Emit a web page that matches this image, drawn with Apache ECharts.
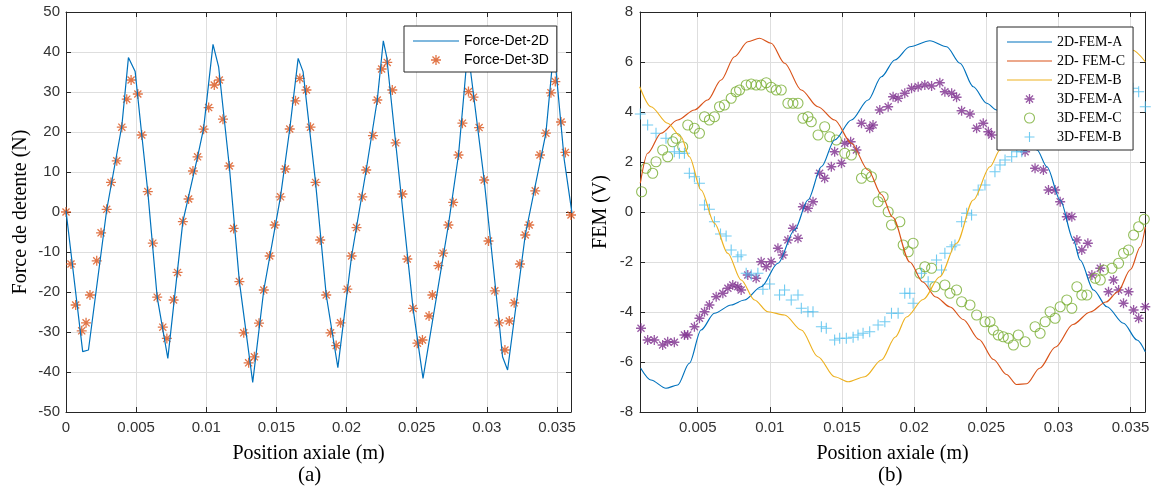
<!DOCTYPE html>
<html>
<head>
<meta charset="utf-8">
<script src="https://cdn.jsdelivr.net/npm/echarts@6/dist/echarts.min.js"></script>
<style>
html,body{margin:0;padding:0;background:#fff;}
#chart{width:1152px;height:495px;}
</style>
</head>
<body>
<div id="chart"></div>
<script>
// ---------- (a) detent force ----------
const xTicksA = [0, 0.005, 0.01, 0.015, 0.02, 0.025, 0.03, 0.035];
const yTicksNoteA = [-50, 50, 10]; // min, max, step
const force2DX = [0, 0.00119, 0.0016, 0.0029, 0.00398, 0.00445, 0.00493, 0.0054, 0.00583, 0.0065, 0.00726, 0.00833, 0.00938, 0.00981, 0.01048, 0.01088, 0.01164, 0.01236, 0.01331, 0.0141, 0.01529, 0.01595, 0.01655, 0.0169, 0.01779, 0.01855, 0.01938, 0.02036, 0.0214, 0.02219, 0.02262, 0.02286, 0.0235, 0.02474, 0.02545, 0.02726, 0.02798, 0.02838, 0.0286, 0.02885, 0.02981, 0.03088, 0.03112, 0.03148, 0.03274, 0.03421, 0.0347, 0.03493, 0.03552, 0.03607];
const force2DY = [0.3, -34.9, -34.5, 0.5, 21.5, 38.6, 35.1, 19.3, 5.1, -21.3, -36.6, -2.4, 13.8, 20.9, 41.9, 36.3, 11.5, -17.4, -42.6, -19.5, 3.8, 20.75, 38.4, 35.1, 7.4, -20.75, -38.9, -11, 10.5, 28, 42.8, 38.8, 17.3, -24.1, -41.6, -3.25, 14.25, 30, 39, 35, 8, -27.7, -36.2, -39.5, -5.75, 19.7, 38, 35.5, 13, -0.3];
const force3DX = [0, 0.000357, 0.00069, 0.00112, 0.00143, 0.00171, 0.00219, 0.0025, 0.0029, 0.00321, 0.00362, 0.00398, 0.00433, 0.00464, 0.00512, 0.0054, 0.00583, 0.00619, 0.0065, 0.0069, 0.00719, 0.00767, 0.00795, 0.00833, 0.00874, 0.00905, 0.00938, 0.00981, 0.01017, 0.01057, 0.01093, 0.01119, 0.01164, 0.01195, 0.01236, 0.01267, 0.01302, 0.01343, 0.01376, 0.0141, 0.01452, 0.01488, 0.01529, 0.01564, 0.01595, 0.01636, 0.01667, 0.01714, 0.01743, 0.01779, 0.01812, 0.01855, 0.01886, 0.01926, 0.01957, 0.02005, 0.02036, 0.02071, 0.02112, 0.0214, 0.02188, 0.02219, 0.0225, 0.0229, 0.02326, 0.0235, 0.02398, 0.02433, 0.02474, 0.02505, 0.02541, 0.02588, 0.02612, 0.02655, 0.02688, 0.02726, 0.0276, 0.02798, 0.02826, 0.02869, 0.02905, 0.02945, 0.02981, 0.03012, 0.03057, 0.03088, 0.03129, 0.0316, 0.03195, 0.03236, 0.03274, 0.03302, 0.03345, 0.03379, 0.03421, 0.03457, 0.03488, 0.03529, 0.0356, 0.036];
const force3DY = [0, -13, -23.25, -29.7, -27.7, -20.75, -12.2, -5.2, 0.67, 7.4, 12.8, 21.2, 28.2, 33, 29.5, 19.25, 5.1, -7.8, -21.3, -28.8, -31.6, -22, -15.1, -2.4, 3.25, 10.25, 13.8, 20.7, 26.1, 31.75, 33, 23.2, 11.5, -4.1, -17.4, -30.2, -37.7, -36.2, -27.8, -19.5, -11, -3.25, 3.8, 10.75, 20.75, 27.8, 33.4, 30.5, 21.2, 7.4, -7, -20.75, -30.2, -33.4, -27.7, -19.3, -11, -3.9, 3.8, 10.5, 19.1, 28, 35.75, 37.4, 30.5, 17.3, 4.5, -11.75, -24.1, -32.8, -32, -26, -20.75, -13.4, -10.3, -3.25, 2.4, 14.25, 22.2, 30.1, 28.7, 21.1, 8, -7.25, -19.7, -27.7, -34.5, -27.25, -22.7, -13, -5.75, -3.25, 5.3, 14.25, 19.7, 29.8, 32.6, 22.5, 14.9, -0.75];

// ---------- (b) EMF ----------
const xTicksB = [0.005, 0.01, 0.015, 0.02, 0.025, 0.03, 0.035];
const femA2DX = [0.00105, 0.00176, 0.0028, 0.00361, 0.00442, 0.00523, 0.00616, 0.00732, 0.00824, 0.0094, 0.01056, 0.01171, 0.01264, 0.01357, 0.01449, 0.01565, 0.01681, 0.01773, 0.01866, 0.0197, 0.02109, 0.02225, 0.02318, 0.0241, 0.02503, 0.02572, 0.0265, 0.0275, 0.02852, 0.0292, 0.03012, 0.03104, 0.0315, 0.03243, 0.03336, 0.03451, 0.03545, 0.03602];
const femA2DY = [-6.25, -6.72, -7.05, -6.92, -6.05, -4.72, -4.05, -3.72, -3.52, -2.99, -2.05, -0.72, 0.48, 1.81, 2.88, 3.68, 4.48, 5.41, 6.08, 6.61, 6.85, 6.61, 5.95, 5.01, 4.35, 4.08, 3.8, 3.2, 2.48, 1.81, 0.48, -1.12, -1.92, -3.12, -3.79, -4.45, -5.12, -5.59];
const femC2DX = [0.00102, 0.00153, 0.00246, 0.00361, 0.00477, 0.00569, 0.00662, 0.00755, 0.00847, 0.00928, 0.01009, 0.01102, 0.01218, 0.01333, 0.01449, 0.01565, 0.01681, 0.01773, 0.0185, 0.0197, 0.0206, 0.0215, 0.0225, 0.0234, 0.0245, 0.0255, 0.0264, 0.0271, 0.0278, 0.0287, 0.0298, 0.031, 0.0322, 0.0333, 0.0341, 0.035, 0.03567, 0.03602];
const femC2DY = [1.15, 2.35, 3.15, 3.68, 4.08, 4.48, 5.28, 6.21, 6.81, 6.95, 6.75, 5.95, 4.88, 4.21, 3.68, 2.75, 1.68, 0.7, -0.2, -2.0, -2.8, -3.4, -3.8, -4.3, -5.1, -5.9, -6.5, -6.9, -6.87, -6.25, -5.4, -4.5, -4.0, -3.6, -3.2, -2.3, -1.4, -0.6];
const femB2DX = [0.00098, 0.00176, 0.00292, 0.00384, 0.00442, 0.00523, 0.00616, 0.00708, 0.00801, 0.00894, 0.00986, 0.01102, 0.01218, 0.01333, 0.01449, 0.01542, 0.01658, 0.01773, 0.0187, 0.01947, 0.02063, 0.02178, 0.02294, 0.0241, 0.02526, 0.02595, 0.027, 0.0285, 0.03, 0.0315, 0.0333, 0.0345, 0.03512, 0.03602];
const femB2DY = [5.01, 4.21, 3.55, 3.01, 2.21, 0.88, -0.45, -1.65, -2.72, -3.52, -3.99, -4.12, -4.72, -5.79, -6.59, -6.79, -6.59, -5.92, -5.0, -4.2, -3.5, -2.59, -1.25, 0.48, 1.81, 2.48, 3.6, 4.8, 5.7, 6.3, 6.9, 6.75, 6.48, 6.01];
const femA3DX = [0.00107, 0.00153, 0.00199, 0.00257, 0.00292, 0.00338, 0.00408, 0.00431, 0.00477, 0.00512, 0.00547, 0.00581, 0.00628, 0.00674, 0.00709, 0.00743, 0.00778, 0.00801, 0.00847, 0.00905, 0.0094, 0.00975, 0.01009, 0.01056, 0.0109, 0.01125, 0.0116, 0.01195, 0.01229, 0.01264, 0.01299, 0.01345, 0.0138, 0.01426, 0.01449, 0.01496, 0.01519, 0.0156, 0.016, 0.01635, 0.01692, 0.01715, 0.01762, 0.0182, 0.01854, 0.01889, 0.01935, 0.01982, 0.02028, 0.02074, 0.02121, 0.02178, 0.02213, 0.0226, 0.02294, 0.02329, 0.02387, 0.02433, 0.02479, 0.02514, 0.02537, 0.02769, 0.02838, 0.02896, 0.02931, 0.02977, 0.03012, 0.03058, 0.03093, 0.03128, 0.03162, 0.03204, 0.03232, 0.0329, 0.03347, 0.03382, 0.03417, 0.03451, 0.03486, 0.03521, 0.03556, 0.03602];
const femA3DY = [-4.65, -5.12, -5.12, -5.32, -5.19, -5.21, -4.92, -4.92, -4.59, -4.25, -3.99, -3.72, -3.39, -3.25, -3.05, -2.92, -2.99, -3.12, -2.52, -2.65, -1.99, -2.19, -1.99, -1.45, -1.72, -1.12, -0.65, -1.05, 0.21, 0.15, 0.41, 1.55, 1.35, 1.81, 2.41, 1.95, 2.75, 2.81, 2.48, 3.55, 3.35, 3.48, 4.08, 4.21, 4.61, 4.55, 4.75, 4.95, 5.01, 5.08, 5.04, 5.17, 4.81, 4.75, 4.59, 4.05, 3.92, 3.35, 3.55, 3.21, 3.08, 2.41, 1.75, 1.68, 0.88, 0.88, 0.41, -0.19, -0.19, -1.12, -1.52, -1.25, -2.52, -2.25, -3.19, -2.72, -3.12, -3.65, -3.19, -3.92, -4.25, -3.79];
const femC3DX = [0.00111, 0.00141, 0.00188, 0.00211, 0.00257, 0.00292, 0.00327, 0.0035, 0.00396, 0.00431, 0.00477, 0.00512, 0.00547, 0.00581, 0.00616, 0.00651, 0.00685, 0.00732, 0.00766, 0.0079, 0.00836, 0.00871, 0.00905, 0.0094, 0.00975, 0.01009, 0.01044, 0.01079, 0.01125, 0.0116, 0.01195, 0.01229, 0.01264, 0.01287, 0.01334, 0.0138, 0.01415, 0.01461, 0.01519, 0.01565, 0.01635, 0.01669, 0.01704, 0.0175, 0.01785, 0.0182, 0.01843, 0.01901, 0.01924, 0.01959, 0.01993, 0.0204, 0.02074, 0.02121, 0.02144, 0.02213, 0.02248, 0.02294, 0.02329, 0.02387, 0.02433, 0.02491, 0.02526, 0.02549, 0.02583, 0.02618, 0.02653, 0.02688, 0.02722, 0.02769, 0.02838, 0.02873, 0.02908, 0.02942, 0.02977, 0.03012, 0.03058, 0.03093, 0.03128, 0.03162, 0.03197, 0.03255, 0.0329, 0.03313, 0.03371, 0.03417, 0.03451, 0.03486, 0.03521, 0.03556, 0.03595];
const femC3DY = [0.81, 1.75, 1.55, 2.01, 2.48, 2.21, 2.81, 2.95, 2.61, 3.48, 3.35, 3.15, 3.81, 3.68, 3.81, 4.21, 4.28, 4.55, 4.81, 4.88, 5.08, 5.12, 5.08, 5.08, 5.17, 4.99, 4.88, 4.88, 4.35, 4.35, 4.35, 3.75, 3.81, 3.61, 3.08, 3.41, 3.01, 2.88, 2.35, 2.28, 1.35, 1.55, 1.41, 0.41, 0.61, 0.01, -0.52, -0.39, -1.32, -1.59, -1.25, -2.45, -2.19, -2.25, -2.99, -2.92, -3.25, -3.12, -3.59, -3.72, -4.12, -4.39, -4.39, -4.72, -4.92, -4.99, -5.05, -5.32, -4.92, -5.19, -4.59, -4.85, -4.39, -3.99, -4.25, -3.79, -3.52, -3.85, -2.99, -3.32, -3.32, -2.65, -2.72, -2.32, -2.25, -2.05, -1.65, -1.52, -0.92, -0.59, -0.29];
const femB3DX = [0.00102, 0.00153, 0.00211, 0.0028, 0.00338, 0.00373, 0.00408, 0.00442, 0.00477, 0.00512, 0.00547, 0.00581, 0.00616, 0.00658, 0.00697, 0.00732, 0.00778, 0.00801, 0.00836, 0.00871, 0.00917, 0.00952, 0.00998, 0.01067, 0.01102, 0.01148, 0.01195, 0.01218, 0.01264, 0.01299, 0.01357, 0.01391, 0.01449, 0.01484, 0.0153, 0.01577, 0.01611, 0.01646, 0.01692, 0.0175, 0.01797, 0.01843, 0.01889, 0.01935, 0.0197, 0.01993, 0.02051, 0.02097, 0.02155, 0.0219, 0.02213, 0.0226, 0.02283, 0.02329, 0.02364, 0.02398, 0.02444, 0.02491, 0.0256, 0.02595, 0.0263, 0.02676, 0.02711, 0.02746, 0.03516, 0.03556, 0.03602];
const femB3DY = [3.92, 3.48, 3.15, 2.95, 2.41, 2.35, 2.35, 1.55, 1.41, 1.15, 0.28, 0.11, -0.39, -0.88, -0.96, -1.52, -1.79, -1.72, -2.45, -2.52, -2.45, -3.09, -2.88, -3.32, -3.12, -3.52, -3.32, -3.85, -3.99, -3.99, -4.59, -4.65, -5.12, -5.05, -5.05, -5.01, -4.92, -4.85, -4.79, -4.52, -4.39, -4.05, -4.05, -3.25, -3.25, -3.65, -2.45, -2.79, -1.92, -2.32, -1.65, -1.39, -1.32, -0.39, -0.05, -0.12, 0.88, 1.08, 1.61, 1.88, 2.08, 2.21, 2.41, 2.41, 4.95, 4.81, 4.21];

const zip = (xs, ys) => xs.map((x, i) => [x, ys[i]]);

const C_BLUE = '#0072BD', C_ORANGE = '#D95319', C_YELLOW = '#EDB120',
      C_PURPLE = '#7E2F8E', C_GREEN = '#77AC30', C_CYAN = '#4DBEEE';
const AX = '#262626', GRIDC = '#dedede', LBL = '#333333';
const SANS = '"Liberation Sans", Arial, sans-serif';
const SERIF = '"Liberation Serif", "Times New Roman", serif';
const STAR = 'path://M5,0L5,10M0,5L10,5M1.46,1.46L8.54,8.54M1.46,8.54L8.54,1.46';
const RING = 'path://M10,5A5,5,0,1,1,0,5A5,5,0,1,1,10,5Z';
const PLUS = 'path://M5,0L5,10M0,5L10,5';
const LINEICON = 'path://M0,0L40,0L40,1L0,1Z';
const CLEAR = 'rgba(0,0,0,0)';

const fmtX = v => v === 0 ? '0' : v.toFixed(3).replace(/0+$/, '');

function bottomX(gi, min, max, ticks, name, namePad) {
  return {
    type: 'value', gridIndex: gi, position: 'bottom', min, max,
    axisLine: { show: true, onZero: false, lineStyle: { color: AX, width: 1 } },
    axisTick: { show: true, inside: true, length: 5, lineStyle: { color: AX, width: 1 }, customValues: ticks },
    axisLabel: { customValues: ticks, formatter: fmtX, color: LBL, fontSize: 15, fontFamily: SANS, margin: 8 },
    splitLine: { show: true, lineStyle: { color: GRIDC, width: 1 } },
    name, nameLocation: 'middle', nameGap: 32, nameMoveOverlap: false,
    nameTextStyle: { fontFamily: SERIF, fontSize: 20, color: '#000', padding: namePad }
  };
}
function topX(gi, min, max, ticks) {
  return {
    type: 'value', gridIndex: gi, position: 'top', min, max,
    axisLine: { show: true, onZero: false, lineStyle: { color: AX, width: 1 } },
    axisTick: { show: true, inside: true, length: 5, lineStyle: { color: AX, width: 1 }, customValues: ticks },
    axisLabel: { show: false }, splitLine: { show: false }
  };
}
function leftY(gi, min, max, step, name, gap, margin) {
  return {
    type: 'value', gridIndex: gi, position: 'left', min, max, interval: step,
    axisLine: { show: true, onZero: false, lineStyle: { color: AX, width: 1 } },
    axisTick: { show: true, inside: true, length: 5, lineStyle: { color: AX, width: 1 } },
    axisLabel: { color: LBL, fontSize: 15, fontFamily: SANS, margin },
    splitLine: { show: true, lineStyle: { color: GRIDC, width: 1 } },
    name, nameLocation: 'middle', nameGap: gap, nameMoveOverlap: false,
    nameTextStyle: { fontFamily: SERIF, fontSize: 20, color: '#000' }
  };
}
function rightY(gi, min, max, step) {
  return {
    type: 'value', gridIndex: gi, position: 'right', min, max, interval: step,
    axisLine: { show: true, onZero: false, lineStyle: { color: AX, width: 1 } },
    axisTick: { show: true, inside: true, length: 5, lineStyle: { color: AX, width: 1 } },
    axisLabel: { show: false }, splitLine: { show: false }
  };
}
function lineSeries(name, xi, yi, data, color, smooth) {
  return { type: 'line', name, xAxisIndex: xi, yAxisIndex: yi, data, showSymbol: false, symbol: 'none',
    smooth: smooth, smoothMonotone: 'x', lineStyle: { color, width: 1.2 }, itemStyle: { color },
    animation: false, silent: true };
}
function markSeries(name, xi, yi, data, color, symbol, size, bw) {
  return { type: 'scatter', name, xAxisIndex: xi, yAxisIndex: yi, data, symbol, symbolSize: size,
    itemStyle: { color: CLEAR, borderColor: color, borderWidth: bw }, clip: false,
    animation: false, silent: true };
}

const chart = echarts.init(document.getElementById('chart'), null, { renderer: 'canvas' });
chart.setOption({
  backgroundColor: '#fff',
  animation: false,
  grid: [
    { left: 66, top: 12, width: 505, height: 400, containLabel: false, outerBoundsMode: 'none' },
    { left: 640, top: 12, width: 505, height: 400, containLabel: false, outerBoundsMode: 'none' }
  ],
  xAxis: [
    bottomX(0, 0, 0.036, xTicksA, 'Position axiale (m)', [0, 20, 0, 0]),
    topX(0, 0, 0.036, xTicksA),
    bottomX(1, 0.001, 0.036, xTicksB, 'Position axiale (m)', 0),
    topX(1, 0.001, 0.036, xTicksB)
  ],
  yAxis: [
    leftY(0, yTicksNoteA[0], yTicksNoteA[1], yTicksNoteA[2], 'Force de detente (N)', 35, 6),
    rightY(0, -50, 50, 10),
    leftY(1, -8, 8, 2, 'FEM (V)', 29, 7),
    rightY(1, -8, 8, 2)
  ],
  legend: [
    {
      orient: 'vertical', left: 404, top: 26, itemWidth: 46, itemHeight: 10, itemGap: 5,
      padding: [8, 8, 5, 9], backgroundColor: '#fff', borderColor: AX, borderWidth: 1, borderRadius: 0,
      selectedMode: false, z: 10, textStyle: { fontFamily: SANS, fontSize: 14, color: '#000' },
      data: [
        { name: 'Force-Det-2D', icon: LINEICON, itemStyle: { color: C_BLUE, borderWidth: 0 } },
        { name: 'Force-Det-3D', icon: STAR, itemStyle: { color: CLEAR, borderColor: C_ORANGE, borderWidth: 1.3 } }
      ]
    },
    {
      orient: 'vertical', left: 997, top: 27, itemWidth: 45, itemHeight: 10, itemGap: 5,
      padding: [8, 8, 6, 10], backgroundColor: '#fff', borderColor: AX, borderWidth: 1, borderRadius: 0,
      selectedMode: false, z: 10, textStyle: { fontFamily: SERIF, fontSize: 14, color: '#000' },
      data: [
        { name: '2D-FEM-A', icon: LINEICON, itemStyle: { color: C_BLUE, borderWidth: 0 } },
        { name: '2D- FEM-C', icon: LINEICON, itemStyle: { color: C_ORANGE, borderWidth: 0 } },
        { name: '2D-FEM-B', icon: LINEICON, itemStyle: { color: C_YELLOW, borderWidth: 0 } },
        { name: '3D-FEM-A', icon: STAR, itemStyle: { color: CLEAR, borderColor: C_PURPLE, borderWidth: 1.3 } },
        { name: '3D-FEM-C', icon: RING, itemStyle: { color: CLEAR, borderColor: C_GREEN, borderWidth: 1.1 } },
        { name: '3D-FEM-B', icon: PLUS, itemStyle: { color: CLEAR, borderColor: C_CYAN, borderWidth: 1.1 } }
      ]
    }
  ],
  title: [
    { text: '(a)', left: 298, top: 465, padding: 0, textStyle: { fontFamily: SERIF, fontSize: 21, fontWeight: 'normal', color: '#000' } },
    { text: '(b)', left: 878, top: 465, padding: 0, textStyle: { fontFamily: SERIF, fontSize: 21, fontWeight: 'normal', color: '#000' } }
  ],
  series: [
    lineSeries('Force-Det-2D', 0, 0, zip(force2DX, force2DY), C_BLUE, false),
    markSeries('Force-Det-3D', 0, 0, zip(force3DX, force3DY), C_ORANGE, STAR, 10, 1.3),
    lineSeries('2D-FEM-A', 2, 2, zip(femA2DX, femA2DY), C_BLUE, 0.3),
    lineSeries('2D- FEM-C', 2, 2, zip(femC2DX, femC2DY), C_ORANGE, 0.3),
    lineSeries('2D-FEM-B', 2, 2, zip(femB2DX, femB2DY), C_YELLOW, 0.3),
    markSeries('3D-FEM-A', 2, 2, zip(femA3DX, femA3DY), C_PURPLE, STAR, 10, 1.3),
    markSeries('3D-FEM-C', 2, 2, zip(femC3DX, femC3DY), C_GREEN, RING, 10, 1.1),
    markSeries('3D-FEM-B', 2, 2, zip(femB3DX, femB3DY), C_CYAN, PLUS, 11, 1.1)
  ]
});
</script>
</body>
</html>
